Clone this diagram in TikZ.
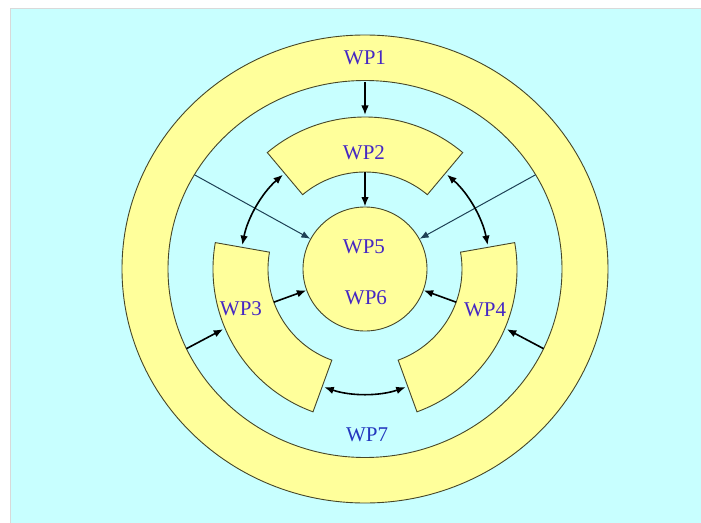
\documentclass[tikz,border=0pt]{standalone}
\usepackage{fontspec}
\setmainfont{Liberation Serif}
\usetikzlibrary{arrows.meta}

\definecolor{bgcyan}{RGB}{200,255,255}
\definecolor{wpyellow}{RGB}{255,255,155}
\definecolor{wpedge}{RGB}{70,70,40}
\definecolor{wpblue}{RGB}{70,40,195}
\definecolor{wpsevenblue}{RGB}{35,55,190}
\definecolor{wpline}{RGB}{30,65,85}

\tikzset{
  band/.style={fill=wpyellow, draw=wpedge, line width=0.9pt},
  wplabel/.style={text=wpblue, font=\fontsize{21}{25}\selectfont, inner sep=0pt},
  flow/.style={-{Latex[length=9.5pt,width=7.5pt]}, line width=1.6pt},
  link/.style={{Latex[length=9.5pt,width=7.5pt]}-{Latex[length=9.5pt,width=7.5pt]}, line width=1.6pt},
  feed/.style={-{Latex[length=9pt,width=7pt]}, line width=1pt, color=wpline}
}

\begin{document}
\begin{tikzpicture}[x=1pt,y=1pt]
\useasboundingbox (-365,-253) rectangle (336,269);
\fill[white] (-365,-253) rectangle (336,269);
\draw[fill=bgcyan, draw=black!15, line width=0.8pt] (-355,-256) rectangle (340,261);

% outer ring WP1
\fill[wpyellow, even odd rule] (0,0) ellipse [x radius=243, y radius=234]
  (0,0) ellipse [x radius=197, y radius=188.5];
\draw[wpedge, line width=0.9pt] (0,0) ellipse [x radius=243, y radius=234];
\draw[wpedge, line width=0.9pt] (0,0) ellipse [x radius=197, y radius=188.5];

% sectors WP2, WP3, WP4
\draw[band] (50:97) arc[start angle=50, end angle=130, radius=97]
  -- (130:152) arc[start angle=130, end angle=50, radius=152] -- cycle;
\draw[band] (170:97) arc[start angle=170, end angle=250, radius=97]
  -- (250:152) arc[start angle=250, end angle=170, radius=152] -- cycle;
\draw[band] (290:97) arc[start angle=290, end angle=370, radius=97]
  -- (370:152) arc[start angle=370, end angle=290, radius=152] -- cycle;

% core WP5 / WP6
\node[band, circle, minimum size=124pt, inner sep=0pt] (core) at (0,0) {};

% labels
\node[wplabel] (wp1) at (0,211) {WP1};
\node[wplabel] (wp2) at (-1,116) {WP2};
\node[wplabel] (wp3) at (-124,-40) {WP3};
\node[wplabel] (wp4) at (120,-41) {WP4};
\node[wplabel] (wp5) at (-1,22) {WP5};
\node[wplabel] (wp6) at (1,-29) {WP6};
\node[wplabel, text=wpsevenblue] (wp7) at (2,-166) {WP7};

% end points
\coordinate (ringtop) at (0,187);
\coordinate (wp2top) at (0,154);
\coordinate (wp2bot) at (0,97);
\coordinate (ringNW) at (150:197 and 188.5);
\coordinate (ringNE) at (30:197 and 188.5);
\coordinate (ringSW) at (205:197 and 188.5);
\coordinate (ringSE) at (335:197 and 188.5);
\coordinate (wp3out) at (203:154);
\coordinate (wp4out) at (337:154);
\coordinate (wp3in) at (200:97);
\coordinate (wp4in) at (340:97);

% arrows
\draw[flow] (ringtop) -- (wp2top);
\draw[flow] (wp2bot) -- (core);
\draw[feed] (ringNW) -- (core);
\draw[feed] (ringNE) -- (core);
\draw[flow] (wp3in) -- (core);
\draw[flow] (wp4in) -- (core);
\draw[flow] (ringSW) -- (wp3out);
\draw[flow] (ringSE) -- (wp4out);
\draw[link] (131:125) arc[start angle=131, end angle=169, radius=125];
\draw[link] (49:125) arc[start angle=49, end angle=11, radius=125];
\draw[link] (251:125) arc[start angle=251, end angle=289, radius=125];
\end{tikzpicture}
\end{document}
